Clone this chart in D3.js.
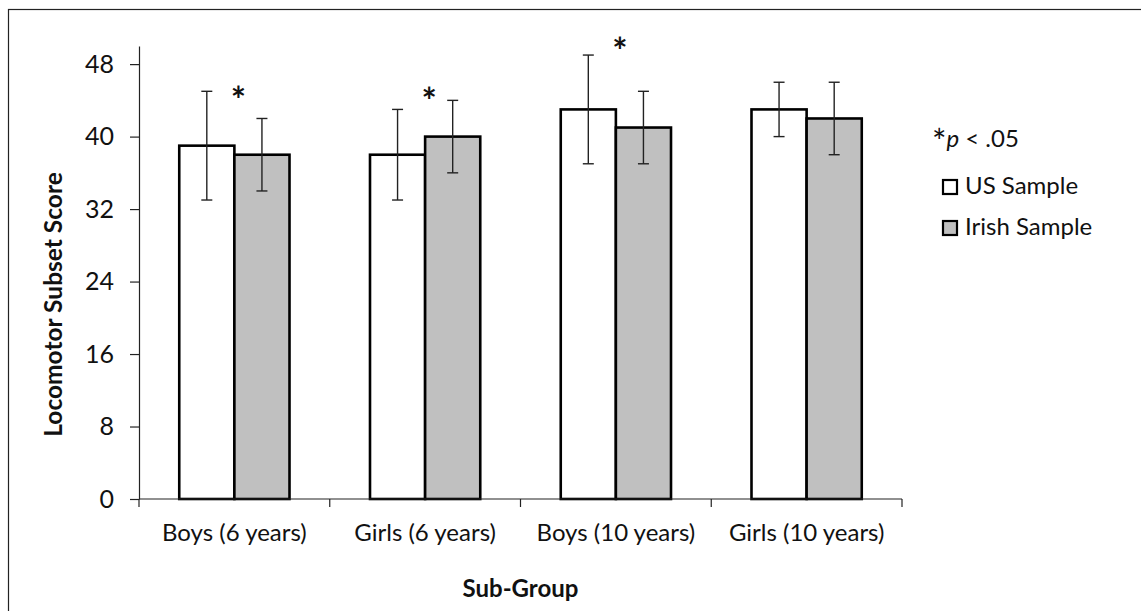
<!DOCTYPE html>
<html>
<head>
<meta charset="utf-8">
<script src="https://cdn.jsdelivr.net/npm/d3@7/dist/d3.min.js"></script>
<style>
  html, body { margin: 0; padding: 0; background: #fff; }
  svg { display: block; font-family: Lato, "Open Sans", sans-serif; }
</style>
</head>
<body>
<svg id="chart" width="1141" height="611"></svg>
<script>
const categories = ["Boys (6 years)", "Girls (6 years)", "Boys (10 years)", "Girls (10 years)"];
const seriesNames = ["US Sample", "Irish Sample"];
const usMeans = [39, 38, 43, 43];
const usErr = [6, 5, 6, 3];
const irishMeans = [38, 40, 41, 42];
const irishErr = [4, 4, 4, 4];
const starCats = ["Boys (6 years)", "Girls (6 years)", "Boys (10 years)"];
const starY = [44.9, 44.8, 50.3];           // asterisk positions (value units)
const yTicks = [0, 8, 16, 24, 32, 40, 48];
const seriesFill = ["#ffffff", "#c0c0c0"];

(function () {
const svg = d3.select("#chart");
const W = 1141, H = 611;
const mLeft = 139, mRight = 902, mTop = 46, mBottom = 499;

// outer border (only top and left are visible in frame)
svg.append("rect").attr("x", 8.5).attr("y", 9.5).attr("width", W + 20).attr("height", H + 20)
  .attr("fill", "none").attr("stroke", "#222").attr("stroke-width", 1.2);

const x = d3.scaleBand().domain(categories).range([mLeft, mRight]).paddingInner(0).paddingOuter(0);
const bw = x.bandwidth();
const x1 = d3.scaleBand().domain(seriesNames).range([bw * 0.211, bw * 0.789]).padding(0);
const y = d3.scaleLinear().domain([0, 50]).range([mBottom, mTop]);

const data = categories.map((c, i) => ({
  cat: c,
  vals: [
    { s: seriesNames[0], v: usMeans[i], e: usErr[i], fill: seriesFill[0] },
    { s: seriesNames[1], v: irishMeans[i], e: irishErr[i], fill: seriesFill[1] }
  ]
}));

// y axis
const yAxis = d3.axisLeft(y).tickValues(yTicks).tickSize(9).tickPadding(16).tickSizeOuter(0);
const gy = svg.append("g").attr("transform", `translate(${mLeft},0)`).call(yAxis);
gy.select(".domain").attr("stroke", "#222").attr("stroke-width", 1.2);
gy.selectAll(".tick line").attr("stroke", "#222").attr("stroke-width", 1.2);
gy.selectAll(".tick text").attr("font-size", 25).attr("fill", "#111").attr("font-family", "Lato");

// groups
const g = svg.append("g").selectAll("g").data(data).join("g")
  .attr("transform", d => `translate(${x(d.cat)},0)`);

g.selectAll("rect").data(d => d.vals).join("rect")
  .attr("x", d => x1(d.s))
  .attr("y", d => y(d.v))
  .attr("width", x1.bandwidth())
  .attr("height", d => y(0) - y(d.v))
  .attr("fill", d => d.fill)
  .attr("stroke", "#000")
  .attr("stroke-width", 2.6);

// x axis line and category tick marks
svg.append("line").attr("x1", mLeft).attr("x2", mRight).attr("y1", y(0)).attr("y2", y(0))
  .attr("stroke", "#222").attr("stroke-width", 1.2);
const boundaries = categories.map(c => x(c)).concat([x(categories[categories.length - 1]) + bw]);
svg.append("g").selectAll("line").data(boundaries).join("line")
  .attr("x1", d => d).attr("x2", d => d).attr("y1", y(0)).attr("y2", y(0) + 8)
  .attr("stroke", "#222").attr("stroke-width", 1.2);

// error bars
const eb = g.selectAll("g.err").data(d => d.vals).join("g").attr("class", "err")
  .attr("transform", d => `translate(${x1(d.s) + x1.bandwidth() / 2},0)`);
eb.append("line").attr("x1", 0).attr("x2", 0)
  .attr("y1", d => y(d.v + d.e)).attr("y2", d => y(d.v - d.e))
  .attr("stroke", "#222").attr("stroke-width", 1.4);
eb.append("line").attr("x1", -5.5).attr("x2", 5.5)
  .attr("y1", d => y(d.v + d.e)).attr("y2", d => y(d.v + d.e))
  .attr("stroke", "#222").attr("stroke-width", 1.4);
eb.append("line").attr("x1", -5.5).attr("x2", 5.5)
  .attr("y1", d => y(d.v - d.e)).attr("y2", d => y(d.v - d.e))
  .attr("stroke", "#222").attr("stroke-width", 1.4);

// category labels
svg.append("g").selectAll("text").data(categories).join("text")
  .attr("x", d => x(d) + bw / 2).attr("y", 541)
  .attr("text-anchor", "middle").attr("font-size", 24).attr("fill", "#111")
  .text(d => d);

// asterisks
svg.append("g").selectAll("text").data(starCats.map((c, i) => ({ c, v: starY[i] }))).join("text")
  .attr("x", d => x(d.c) + bw / 2 + 4).attr("y", d => y(d.v) + 21)
  .attr("text-anchor", "middle").attr("font-size", 36).attr("font-weight", "bold").attr("fill", "#111")
  .text("*");

// axis titles
svg.append("text").attr("x", (mLeft + mRight) / 2).attr("y", 597)
  .attr("text-anchor", "middle").attr("font-size", 24).attr("font-weight", "bold").attr("fill", "#111")
  .text("Sub-Group");
svg.append("text").attr("transform", `translate(62,${(mTop + mBottom) / 2 + 32}) rotate(-90)`)
  .attr("text-anchor", "middle").attr("font-size", 24.5).attr("font-weight", "bold").attr("fill", "#111")
  .text("Locomotor Subset Score");

// legend
const pt = svg.append("text").attr("x", 932).attr("y", 147).attr("font-size", 24).attr("fill", "#111");
pt.append("tspan").attr("font-size", 34).attr("dy", 7).text("*");
pt.append("tspan").attr("font-style", "italic").attr("dy", -7).text("p");
pt.append("tspan").text(" < .05");

const leg = svg.append("g").selectAll("g").data(seriesNames).join("g")
  .attr("transform", (d, i) => `translate(943,${180 + i * 41})`);
leg.append("rect").attr("width", 14).attr("height", 14)
  .attr("fill", (d, i) => seriesFill[i]).attr("stroke", "#000").attr("stroke-width", 2.2);
leg.append("text").attr("x", 22).attr("y", 14).attr("font-size", 24).attr("fill", "#111").text(d => d);
})();
</script>
</body>
</html>
